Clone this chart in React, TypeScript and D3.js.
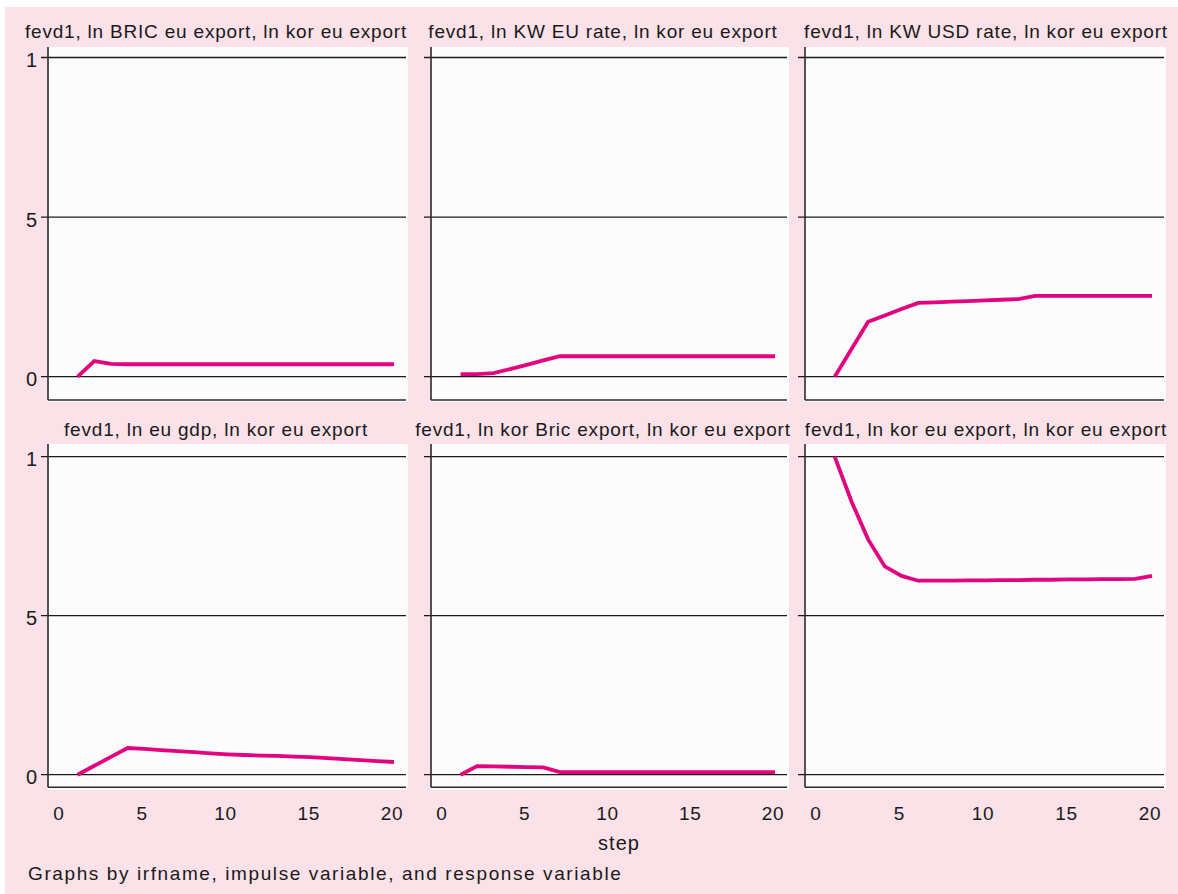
import React from 'react';
import * as d3 from 'd3';

const steps = [1, 2, 3, 4, 5, 6, 7, 8, 9, 10, 11, 12, 13, 14, 15, 16, 17, 18, 19, 20];
const yTickValues = [0, 0.5, 1];
const yTickLabels = ['0', '5', '1'];
const xTickValues = [0, 5, 10, 15, 20];
const xTickLabels = ['0', '5', '10', '15', '20'];

const panelTitles = [
  'fevd1, ln BRIC eu export, ln kor eu export',
  'fevd1, ln KW EU rate, ln kor eu export',
  'fevd1, ln KW USD rate, ln kor eu export',
  'fevd1, ln eu gdp, ln kor eu export',
  'fevd1, ln kor Bric export, ln kor eu export',
  'fevd1, ln kor eu export, ln kor eu export',
];

const bricEuExport = [0.0, 0.049, 0.04, 0.039, 0.039, 0.039, 0.039, 0.039, 0.039, 0.039, 0.039, 0.039, 0.039, 0.039, 0.039, 0.039, 0.039, 0.039, 0.039, 0.039];
const kwEuRate = [0.008, 0.008, 0.011, 0.024, 0.037, 0.051, 0.064, 0.064, 0.064, 0.064, 0.064, 0.064, 0.064, 0.064, 0.064, 0.064, 0.064, 0.064, 0.064, 0.064];
const kwUsdRate = [0.0, 0.086, 0.172, 0.192, 0.212, 0.231, 0.233, 0.235, 0.237, 0.239, 0.241, 0.243, 0.253, 0.253, 0.253, 0.253, 0.253, 0.253, 0.253, 0.253];
const euGdp = [0.0, 0.028, 0.056, 0.084, 0.081, 0.077, 0.074, 0.071, 0.067, 0.064, 0.062, 0.06, 0.059, 0.057, 0.055, 0.052, 0.049, 0.046, 0.043, 0.04];
const korBricExport = [0.0, 0.027, 0.026, 0.025, 0.024, 0.023, 0.008, 0.008, 0.008, 0.008, 0.008, 0.008, 0.008, 0.008, 0.008, 0.008, 0.008, 0.008, 0.008, 0.008];
const korEuExport = [1.0, 0.86, 0.74, 0.655, 0.625, 0.61, 0.61, 0.61, 0.611, 0.611, 0.612, 0.612, 0.613, 0.613, 0.614, 0.614, 0.615, 0.615, 0.616, 0.625];

const panelSeries = [bricEuExport, kwEuRate, kwUsdRate, euGdp, korBricExport, korEuExport];

const xAxisTitle = 'step';
const noteText = 'Graphs by irfname, impulse variable, and response variable';

const W = 1178;
const H = 894;
const FONT = '"Liberation Sans", Arial, sans-serif';
const PINK = '#fbe1e8';
const PLOT_BG = '#fdfcfd';
const LINE = '#e2047f';
const INK = '#1a1a1a';

const cols = [
  { axisX: 48, right: 408, titleX: 216 },
  { axisX: 431, right: 789, titleX: 603 },
  { axisX: 805, right: 1166, titleX: 986 },
];
const rows = [
  { top: 47, y1: 57.5, y0: 376.7, axisY: 400, bottom: 402, titleY: 38 },
  { top: 444, y1: 456.7, y0: 774.7, axisY: 787.3, bottom: 790, titleY: 436 },
];

function Panel({ idx }: { idx: number }) {
  const c = cols[idx % 3];
  const r = rows[Math.floor(idx / 3)];
  const x = d3.scaleLinear().domain([0, 20]).range([c.axisX + 13, c.right - 14]);
  const y = d3.scaleLinear().domain([0, 1]).range([r.y0, r.y1]);
  const vals = panelSeries[idx];
  const pts = steps.map((s, i) => ({ s, v: vals[i] }));
  const line = d3
    .line<{ s: number; v: number }>()
    .x((d) => x(d.s))
    .y((d) => y(d.v));
  const isBottom = idx >= 3;
  const showYLabels = idx % 3 === 0;
  return (
    <g>
      <rect x={c.axisX} y={r.top} width={c.right - c.axisX} height={r.bottom - r.top} fill={PLOT_BG} />
      {yTickValues.map((t, i) => (
        <g key={i}>
          <line x1={c.axisX - 7} x2={c.right - 2} y1={y(t)} y2={y(t)} stroke={INK} strokeWidth={1.3} />
          {showYLabels && (
            <text
              x={c.axisX - 11}
              y={y(t) + 9.5}
              textAnchor="end"
              fontSize={20}
              fontFamily={FONT}
              fill={INK}
            >
              {yTickLabels[i]}
            </text>
          )}
        </g>
      ))}
      <line x1={c.axisX} x2={c.axisX} y1={r.top} y2={r.axisY} stroke="#2a2a2a" strokeWidth={1.6} />
      <line x1={c.axisX} x2={c.right - 2} y1={r.axisY} y2={r.axisY} stroke="#2a2a2a" strokeWidth={1.6} />
      <path d={line(pts) || ''} fill="none" stroke={LINE} strokeWidth={3.8} strokeLinejoin="miter" />
      <text
        x={c.titleX}
        y={r.titleY}
        textAnchor="middle"
        fontSize={19}
        letterSpacing={0.8}
        fontFamily={FONT}
        fill={INK}
      >
        {panelTitles[idx]}
      </text>
      {isBottom &&
        xTickValues.map((t, i) => (
          <text
            key={i}
            x={x(t) - 2}
            y={820}
            textAnchor="middle"
            fontSize={19}
            letterSpacing={0.8}
            fontFamily={FONT}
            fill={INK}
          >
            {xTickLabels[i]}
          </text>
        ))}
    </g>
  );
}

export default function App() {
  return (
    <svg
      width={W}
      height={H}
      style={{ position: 'absolute', left: 0, top: 0, display: 'block' }}
    >
      <rect x={0} y={0} width={W} height={H} fill="#ffffff" />
      <rect x={5} y={7} width={W - 5} height={H - 7} fill={PINK} />
      {panelTitles.map((_, i) => (
        <Panel key={i} idx={i} />
      ))}
      <text x={619} y={850} textAnchor="middle" fontSize={20} letterSpacing={1} fontFamily={FONT} fill={INK}>
        {xAxisTitle}
      </text>
      <text x={28} y={880} fontSize={19} letterSpacing={1.6} fontFamily={FONT} fill={INK}>
        {noteText}
      </text>
    </svg>
  );
}
